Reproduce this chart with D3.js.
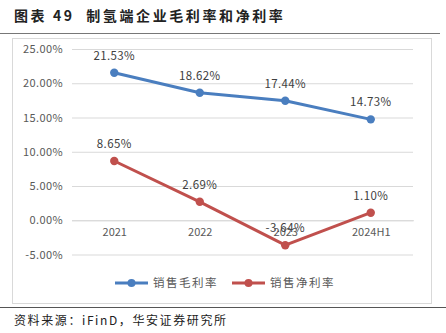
<!DOCTYPE html>
<html><head><meta charset="utf-8">
<script src="https://cdn.jsdelivr.net/npm/d3@7"></script>
<style>body{margin:0;background:#fff}svg{display:block}</style>
</head><body><svg id="c" width="446" height="333"></svg>
<script>
const categories = ["2021","2022","2023","2024H1"];
const grossMargin = [21.53, 18.62, 17.44, 14.73];
const netMargin = [8.65, 2.69, -3.64, 1.10];
const yTicks = [-5, 0, 5, 10, 15, 20, 25];
const seriesNames = ["销售毛利率","销售净利率"];
const colors = ["#4a7ebf","#c0504d"];

const svg = d3.select("#c");
const font = "'Noto Sans CJK SC', 'DejaVu Sans', sans-serif";

svg.append("text").attr("x",14).attr("y",21).attr("font-family",font)
  .attr("font-size",14).attr("font-weight","bold").attr("fill","#222")
  .attr("letter-spacing",2.6).attr("xml:space","preserve")
  .text("图表 49  制氢端企业毛利率和净利率");
svg.append("line").attr("x1",0).attr("x2",440).attr("y1",33.5).attr("y2",33.5)
  .attr("stroke","#777").attr("stroke-width",1);
svg.append("rect").attr("x",12.5).attr("y",38.5).attr("width",419).attr("height",265)
  .attr("fill","none").attr("stroke","#d9d9d9");
svg.append("line").attr("x1",0).attr("x2",446).attr("y1",307.5).attr("y2",307.5)
  .attr("stroke","#555").attr("stroke-width",1.2);
svg.append("text").attr("x",14).attr("y",325).attr("font-family",font)
  .attr("font-size",12).attr("fill","#222").attr("letter-spacing",1.6)
  .text("资料来源：iFinD，华安证券研究所");

const x = d3.scalePoint().domain(categories).range([71.5,413.5]).padding(0.5);
const y = d3.scaleLinear().domain([-5,25]).range([254.5,49]);

const yAxis = d3.axisLeft(y).tickValues(yTicks).tickSize(-(413-72))
  .tickFormat(d => d.toFixed(2) + "%");
const gy = svg.append("g").attr("transform","translate(72,0)").call(yAxis);
gy.select(".domain").remove();
gy.selectAll(".tick line").attr("stroke","#d9d9d9");
gy.selectAll(".tick text").attr("x",-9).attr("font-family",font).attr("font-size",11)
  .attr("fill","#595959").attr("letter-spacing",0.4);

const xAxis = d3.axisBottom(x).tickSize(0);
const gx = svg.append("g").attr("transform",`translate(0,${y(0)})`).call(xAxis);
gx.select(".domain").attr("stroke","#d9d9d9");
gx.selectAll(".tick text").attr("dy",0).attr("y",16).attr("font-family",font)
  .attr("font-size",11).attr("fill","#595959");

const series = [grossMargin, netMargin];
const line = d3.line().x((d,i)=>x(categories[i])).y(d=>y(d));
series.forEach((s,k)=>{
  svg.append("path").datum(s).attr("d",line).attr("fill","none")
    .attr("stroke",colors[k]).attr("stroke-width",3).attr("stroke-linejoin","round");
  svg.selectAll(null).data(s).enter().append("circle")
    .attr("cx",(d,i)=>x(categories[i])).attr("cy",d=>y(d)).attr("r",4.2).attr("fill",colors[k]);
  svg.selectAll(null).data(s).enter().append("text")
    .attr("x",(d,i)=>x(categories[i])).attr("y",d=>y(d)-13)
    .attr("text-anchor","middle").attr("font-family",font).attr("font-size",11.5)
    .attr("fill","#404040").attr("letter-spacing",0.4).text(d=>d.toFixed(2)+"%");
});

const legendX = [115, 232];
seriesNames.forEach((n,k)=>{
  const g = svg.append("g").attr("transform",`translate(${legendX[k]},283)`);
  g.append("line").attr("x1",0).attr("x2",33).attr("stroke",colors[k]).attr("stroke-width",3);
  g.append("circle").attr("cx",16.5).attr("r",4).attr("fill",colors[k]);
  g.append("text").attr("x",38).attr("y",4).attr("font-family",font).attr("font-size",11.5)
    .attr("fill","#595959").attr("letter-spacing",1.5).text(n);
});
</script></body></html>
